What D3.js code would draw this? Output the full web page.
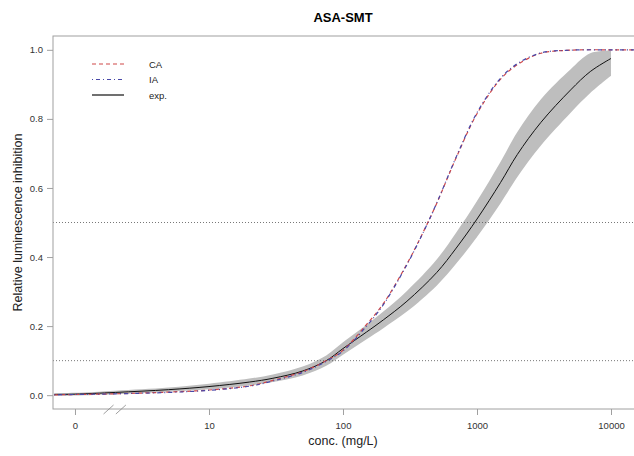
<!DOCTYPE html>
<html>
<head>
<meta charset="utf-8">
<script src="https://cdn.jsdelivr.net/npm/d3@7"></script>
<style>
  body { margin: 0; background: #fff; }
  text { font-family: "Liberation Sans", Arial, sans-serif; }
</style>
</head>
<body>
<div id="chart"></div>
<script>
// concentrations (mg/L), "0" control drawn at 1
const mixConc = [0.7, 1, 2, 5, 10, 20, 30, 50, 75, 100, 150, 200, 300, 400, 500, 700, 1000, 1500, 2000, 3000, 5000, 10000, 20000];
const caValues = [0.001, 0.002, 0.004, 0.009, 0.015, 0.027, 0.043, 0.068, 0.10, 0.13, 0.205, 0.265, 0.38, 0.475, 0.555, 0.688, 0.815, 0.915, 0.957, 0.99, 0.999, 1.0, 1.0];
const iaValues = [0.001, 0.002, 0.004, 0.008, 0.014, 0.026, 0.041, 0.066, 0.098, 0.128, 0.20, 0.262, 0.378, 0.474, 0.556, 0.69, 0.818, 0.918, 0.96, 0.991, 0.999, 1.0, 1.0];

const expConc = [0.7, 1, 2, 5, 10, 20, 30, 50, 75, 100, 150, 200, 300, 500, 700, 1000, 1500, 2000, 3000, 5000, 7000, 10000];
const expValues = [0.002, 0.003, 0.008, 0.016, 0.025, 0.038, 0.049, 0.07, 0.10, 0.135, 0.183, 0.218, 0.272, 0.355, 0.426, 0.51, 0.616, 0.697, 0.79, 0.884, 0.937, 0.975];
const expLower = [-0.002, -0.001, 0.003, 0.01, 0.017, 0.028, 0.038, 0.057, 0.085, 0.117, 0.162, 0.194, 0.242, 0.317, 0.381, 0.458, 0.556, 0.632, 0.723, 0.818, 0.875, 0.925];
const expUpper = [0.006, 0.007, 0.013, 0.022, 0.033, 0.048, 0.06, 0.083, 0.115, 0.153, 0.204, 0.242, 0.302, 0.393, 0.471, 0.562, 0.676, 0.762, 0.857, 0.944, 0.99, 0.998];

const xTicks = [1, 10, 100, 1000, 10000];
const xTickLabels = ["0", "10", "100", "1000", "10000"];
const yTicks = [0, 0.2, 0.4, 0.6, 0.8, 1.0];
const refLines = [0.1, 0.5];
const breakConc = [1.78, 2.2];

const seriesNames = ["CA", "IA", "exp."];

const width = 634, height = 456;
const margin = { top: 36, right: -1, bottom: 47, left: 53 };

const svg = d3.select("#chart").append("svg")
  .attr("width", width)
  .attr("height", height);

// x: decade = 134px, 0-control at 75px
const x = d3.scaleLog()
  .domain([Math.pow(10, -0.164), Math.pow(10, 4.179)])
  .range([margin.left, width - margin.right]);

const y = d3.scaleLinear()
  .domain([-0.04, 1.04])
  .range([height - margin.bottom, margin.top]);

svg.append("clipPath").attr("id", "clip")
  .append("rect")
  .attr("x", margin.left).attr("y", margin.top)
  .attr("width", width - margin.right - margin.left)
  .attr("height", height - margin.bottom - margin.top);

const plot = svg.append("g").attr("clip-path", "url(#clip)");

const smooth = d3.curveCatmullRom.alpha(0.5);

// confidence band
const expData = expConc.map((c, i) => ({ c: c, v: expValues[i], lo: expLower[i], hi: expUpper[i] }));
plot.append("path")
  .datum(expData)
  .attr("fill", "#bebebe")
  .attr("d", d3.area()
    .x(d => x(d.c))
    .y0(d => y(d.lo))
    .y1(d => y(d.hi))
    .curve(smooth));

// dotted reference lines
plot.selectAll(".ref")
  .data(refLines)
  .enter()
  .append("line")
  .attr("x1", margin.left)
  .attr("x2", width - margin.right)
  .attr("y1", d => y(d))
  .attr("y2", d => y(d))
  .attr("stroke", "#555")
  .attr("stroke-width", 0.8)
  .attr("stroke-dasharray", "1,2");

const line = d3.line()
  .x(d => x(d.c))
  .y(d => y(d.v))
  .curve(smooth);

plot.append("path")
  .datum(expData)
  .attr("fill", "none")
  .attr("stroke", "#111")
  .attr("stroke-width", 1)
  .attr("d", line);

const caData = mixConc.map((c, i) => ({ c: c, v: caValues[i] }));
const iaData = mixConc.map((c, i) => ({ c: c, v: iaValues[i] }));

plot.append("path")
  .datum(caData)
  .attr("fill", "none")
  .attr("stroke", "#d04848")
  .attr("stroke-width", 1.2)
  .attr("stroke-dasharray", "4,3")
  .attr("d", line);

plot.append("path")
  .datum(iaData)
  .attr("fill", "none")
  .attr("stroke", "#4848a8")
  .attr("stroke-width", 1.2)
  .attr("stroke-dasharray", "1,3,4,3")
  .attr("d", line);

// box
svg.append("rect")
  .attr("x", margin.left)
  .attr("y", margin.top)
  .attr("width", width - margin.right - margin.left)
  .attr("height", height - margin.bottom - margin.top)
  .attr("fill", "none")
  .attr("stroke", "#a0a0a0")
  .attr("stroke-width", 1);

// axes
const yAxis = svg.append("g")
  .attr("transform", `translate(${margin.left},0)`)
  .call(d3.axisLeft(y).tickValues(yTicks).tickSize(6).tickPadding(4).tickFormat(d3.format(".1f")));

const xAxis = svg.append("g")
  .attr("transform", `translate(0,${height - margin.bottom})`)
  .call(d3.axisBottom(x).tickValues(xTicks).tickSize(6).tickPadding(7).tickFormat((d, i) => xTickLabels[i]));

[xAxis, yAxis].forEach(a => {
  a.select(".domain").remove();
  a.selectAll(".tick line").attr("stroke", "#a0a0a0");
  a.selectAll(".tick text")
    .attr("fill", "#333")
    .style("font-size", "9.5px");
});

// axis break marks
svg.selectAll(".brk")
  .data(breakConc)
  .enter()
  .append("line")
  .attr("x1", d => x(d) - 5)
  .attr("x2", d => x(d) + 5)
  .attr("y1", height - margin.bottom + 5)
  .attr("y2", height - margin.bottom - 4)
  .attr("stroke", "#888")
  .attr("stroke-width", 0.8);

// titles
svg.append("text")
  .attr("x", 343)
  .attr("y", 22)
  .attr("text-anchor", "middle")
  .style("font-size", "13px")
  .style("font-weight", "bold")
  .text("ASA-SMT");

svg.append("text")
  .attr("x", 343)
  .attr("y", 445)
  .attr("text-anchor", "middle")
  .attr("fill", "#222")
  .style("font-size", "12.5px")
  .text("conc. (mg/L)");

svg.append("text")
  .attr("transform", `translate(22,${y(0.5)}) rotate(-90)`)
  .attr("text-anchor", "middle")
  .attr("fill", "#222")
  .style("font-size", "12.5px")
  .text("Relative luminescence inhibition");

// legend
const legend = svg.append("g").attr("transform", "translate(92,64)");
const legStyles = [
  { stroke: "#d04848", dash: "4,3", w: 1.2 },
  { stroke: "#4848a8", dash: "1,3,4,3", w: 1.2 },
  { stroke: "#333", dash: null, w: 1.4 }
];
seriesNames.forEach((name, i) => {
  const g = legend.append("g").attr("transform", `translate(0,${i * 15.5})`);
  g.append("line")
    .attr("x1", 0).attr("x2", 32)
    .attr("y1", 0).attr("y2", 0)
    .attr("stroke", legStyles[i].stroke)
    .attr("stroke-width", legStyles[i].w)
    .attr("stroke-dasharray", legStyles[i].dash);
  g.append("text")
    .attr("x", 57)
    .attr("y", 3.5)
    .attr("fill", "#222")
    .style("font-size", "9.5px")
    .text(name);
});
</script>
</body>
</html>
